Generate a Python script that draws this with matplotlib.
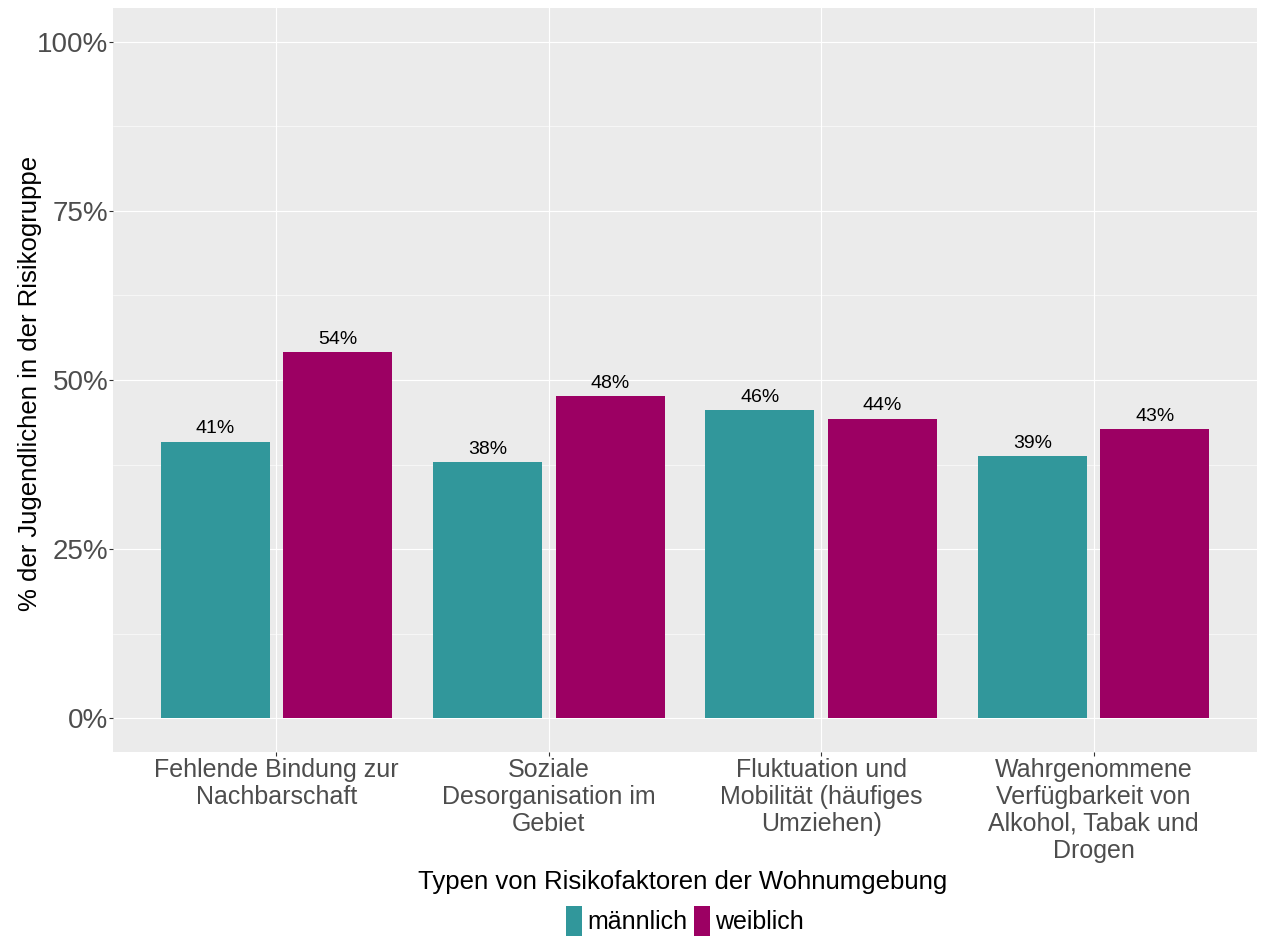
import matplotlib.pyplot as plt
import numpy as np
from matplotlib.patches import Patch
from matplotlib.ticker import MultipleLocator

plt.rcParams['font.family'] = ['Liberation Sans', 'DejaVu Sans']

categories = [
    "Fehlende Bindung zur\nNachbarschaft",
    "Soziale\nDesorganisation im\nGebiet",
    "Fluktuation und\nMobilität (häufiges\nUmziehen)",
    "Wahrgenommene\nVerfügbarkeit von\nAlkohol, Tabak und\nDrogen",
]
maennlich = [40.9, 37.9, 45.6, 38.7]
weiblich = [54.1, 47.6, 44.3, 42.8]
series_names = ["männlich", "weiblich"]
colors = ["#31979B", "#9C0063"]

W, H = 1261, 936
fig = plt.figure(figsize=(W / 100, H / 100), dpi=100)
left, right, top, bottom = 113, 1257, 8, 752
ax = fig.add_axes([left / W, (H - bottom) / H, (right - left) / W, (bottom - top) / H])

ax.set_facecolor("#EBEBEB")
for s in ax.spines.values():
    s.set_visible(False)

x = np.arange(1, len(categories) + 1)
bw = 0.4
off = 0.225
for vals, col, sign in [(maennlich, colors[0], -1), (weiblich, colors[1], 1)]:
    ax.bar(x + sign * off, vals, width=bw, color=col, zorder=3)
    for xi, v in zip(x, vals):
        ax.text(xi + sign * off, v + 0.6, f"{round(v)}%", ha='center', va='bottom',
                fontsize=14, color='black', zorder=4)

ax.set_xlim(0.4, 4.6)
ax.set_ylim(-5, 105)
ax.set_yticks([0, 25, 50, 75, 100])
ax.set_yticklabels(["0%", "25%", "50%", "75%", "100%"])
ax.yaxis.set_minor_locator(MultipleLocator(12.5))
ax.set_xticks(x)
ax.set_xticklabels(categories, linespacing=1.15)
ax.grid(True, which='major', color='white', linewidth=0.8, zorder=0)
ax.grid(True, which='minor', axis='y', color='white', linewidth=0.4, zorder=0)
ax.set_axisbelow(True)
ax.tick_params(axis='both', which='major', length=3, color='#333333', width=0.8,
               labelcolor='#4D4D4D')
ax.tick_params(axis='y', labelsize=20, pad=0.5)
ax.tick_params(axis='x', labelsize=18, pad=1.5)
ax.tick_params(which='minor', length=0)

fig.text(30 / W, 1 - 383 / H, "% der Jugendlichen in der Risikogruppe", rotation=90,
         ha='center', va='center', fontsize=18.5)
fig.text(683 / W, 1 - 882 / H, "Typen von Risikofaktoren der Wohnumgebung",
         ha='center', va='center', fontsize=18.5)

handles = [Patch(facecolor=c, edgecolor='none') for c in colors]
fig.legend(handles, series_names, loc='center', bbox_to_anchor=(685 / W, 1 - 921 / H),
           ncol=2, frameon=False, fontsize=18, handlelength=0.65, handleheight=1.45,
           handletextpad=0.2, columnspacing=0.25, borderpad=0)

fig.savefig("out.png", dpi=100)
